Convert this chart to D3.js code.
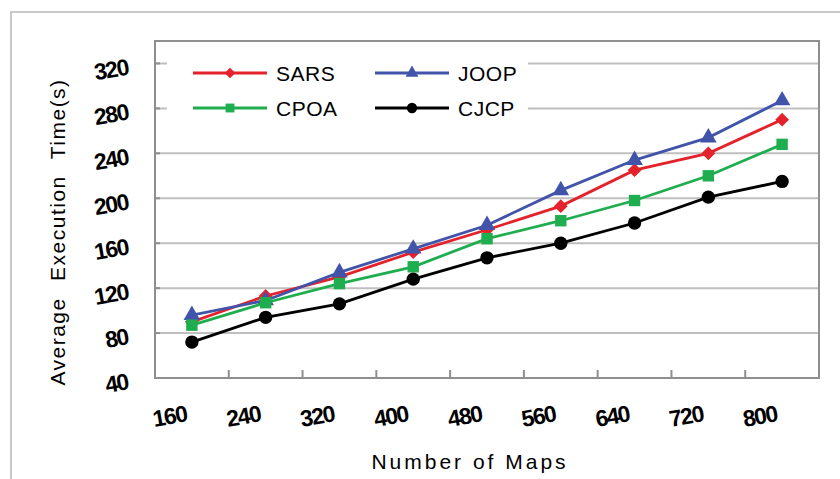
<!DOCTYPE html>
<html>
<head>
<meta charset="utf-8">
<script src="https://cdn.jsdelivr.net/npm/d3@7"></script>
<style>
  body { margin: 0; background: #fff; }
  svg { display: block; font-family: "Liberation Sans", Arial, sans-serif; }
</style>
</head>
<body>
<svg width="840" height="479"></svg>
<script>
// категории по оси OX (число карт)
const maps = [160, 240, 320, 400, 480, 560, 640, 720, 800];
// подписи по оси OY
const yTicks = [40, 80, 120, 160, 200, 240, 280, 320];

// среднее время выполнения, с
const sars = [90, 113, 130, 152, 172, 193, 225, 240, 270];
const joop = [96, 109, 134, 155, 176, 207, 234, 254, 287];
const cpoa = [87, 107, 124, 139, 164, 180, 198, 220, 248];
const cjcp = [72, 94, 106, 128, 147, 160, 178, 201, 215];

const seriesNames = ["SARS", "JOOP", "CPOA", "CJCP"];

function drawGraph() {
    const svg = d3.select("svg");
    svg.selectAll('*').remove();

    const attr_area = { left: 155, right: 819, top: 41, bottom: 378 };

    const series = [
        { name: seriesNames[0], values: sars, color: "#e3222b", shape: "diamond" },
        { name: seriesNames[1], values: joop, color: "#4254aa", shape: "triangle" },
        { name: seriesNames[2], values: cpoa, color: "#1fae4f", shape: "square" },
        { name: seriesNames[3], values: cjcp, color: "#000000", shape: "circle" }
    ];

    // внешняя рамка
    svg.append("rect")
        .attr("x", 11).attr("y", 12)
        .attr("width", 900).attr("height", 600)
        .style("fill", "none").style("stroke", "#c9c9c9").style("stroke-width", 2);

    const scX = d3.scaleBand()
        .domain(maps.map(String))
        .range([attr_area.left, attr_area.right])
        .padding(0);

    const scY = d3.scaleLinear()
        .domain([40, 340])
        .range([attr_area.bottom, attr_area.top]);

    // сетка
    svg.append("g").selectAll("line")
        .data(yTicks.slice(1))
        .enter()
        .append("line")
        .attr("x1", attr_area.left).attr("x2", attr_area.right)
        .attr("y1", d => scY(d)).attr("y2", d => scY(d))
        .style("stroke", "#bfbfbf").style("stroke-width", 2);

    // рамка области графика
    svg.append("rect")
        .attr("x", attr_area.left).attr("y", attr_area.top)
        .attr("width", attr_area.right - attr_area.left)
        .attr("height", attr_area.bottom - attr_area.top)
        .style("fill", "none").style("stroke", "#8f8f8f").style("stroke-width", 2);

    // ось Y: короткие засечки и наклонные подписи
    const axisY = svg.append("g");
    axisY.selectAll("line")
        .data(yTicks)
        .enter()
        .append("line")
        .attr("x1", attr_area.left).attr("x2", attr_area.left + 5)
        .attr("y1", d => scY(d)).attr("y2", d => scY(d))
        .style("stroke", "#8f8f8f").style("stroke-width", 2);
    axisY.selectAll("text")
        .data(yTicks)
        .enter()
        .append("text")
        .attr("transform", d => `translate(129, ${scY(d) + 11}) rotate(-10)`)
        .style("text-anchor", "end")
        .style("font-size", "23px")
        .style("font-weight", "bold")
        .style("letter-spacing", "-1.5px")
        .text(d => d);

    // ось X: засечки между категориями
    const axisX = svg.append("g");
    axisX.selectAll("line")
        .data(maps.slice(1))
        .enter()
        .append("line")
        .attr("x1", d => scX(String(d))).attr("x2", d => scX(String(d)))
        .attr("y1", attr_area.bottom).attr("y2", attr_area.bottom - 8)
        .style("stroke", "#8f8f8f").style("stroke-width", 2);
    axisX.selectAll("text")
        .data(maps)
        .enter()
        .append("text")
        .attr("transform", d => `translate(${scX(String(d)) + scX.bandwidth() / 2 - 21}, 424) rotate(-10)`)
        .style("text-anchor", "middle")
        .style("font-size", "23px")
        .style("font-weight", "bold")
        .style("letter-spacing", "-1.5px")
        .text(d => d);

    // подписи осей
    svg.append("text")
        .attr("transform", "translate(65, 232) rotate(-90)")
        .style("text-anchor", "middle")
        .style("font-size", "21px")
        .style("letter-spacing", "1.5px")
        .style("word-spacing", "9px")
        .text("Average Execution Time(s)");

    svg.append("text")
        .attr("x", 470).attr("y", 469)
        .style("text-anchor", "middle")
        .style("font-size", "21px")
        .style("letter-spacing", "3px")
        .text("Number of Maps");

    // линии и маркеры
    const line = d3.line()
        .x((d, i) => scX(String(maps[i])) + scX.bandwidth() / 2)
        .y(d => scY(d));

    for (let s of series) {
        svg.append("path")
            .datum(s.values)
            .attr("d", line)
            .style("fill", "none")
            .style("stroke", s.color)
            .style("stroke-width", 2.8);
        svg.append("g").selectAll("path")
            .data(s.values)
            .enter()
            .append("path")
            .attr("d", markerPath(s.shape, 1))
            .attr("transform", (d, i) => `translate(${scX(String(maps[i])) + scX.bandwidth() / 2}, ${scY(d)})` + (s.shape === "diamond" ? " rotate(45)" : ""))
            .style("fill", s.color);
    }

    createLegend(svg, series);
}

function markerPath(shape, k) {
    if (shape === "diamond") return d3.symbol(d3.symbolSquare, 95 * k)();
    if (shape === "triangle") return d3.symbol(d3.symbolTriangle, 120 * k)();
    if (shape === "square") return d3.symbol(d3.symbolSquare, 130 * k)();
    return d3.symbol(d3.symbolCircle, 140 * k)();
}

function createLegend(svg, series) {
    // белая подложка под легендой
    svg.append("rect")
        .attr("x", 167).attr("y", 50)
        .attr("width", 361).attr("height", 76)
        .style("fill", "#fff");

    const pos = [
        { x: 193, y: 73 }, { x: 375, y: 73 },
        { x: 193, y: 108 }, { x: 375, y: 108 }
    ];

    const legend = svg.append("g").selectAll("g")
        .data(series)
        .enter()
        .append("g")
        .attr("transform", (d, i) => `translate(${pos[i].x}, ${pos[i].y})`);

    legend.append("line")
        .attr("x1", 0).attr("x2", 74)
        .style("stroke", d => d.color)
        .style("stroke-width", 2.8);
    legend.append("path")
        .attr("d", d => markerPath(d.shape, 0.6))
        .attr("transform", d => "translate(37, 0)" + (d.shape === "diamond" ? " rotate(45)" : ""))
        .style("fill", d => d.color);
    legend.append("text")
        .attr("x", 83).attr("dy", "0.36em")
        .style("font-size", "21px")
        .style("letter-spacing", "0.5px")
        .text(d => d.name);
}

drawGraph();
</script>
</body>
</html>
